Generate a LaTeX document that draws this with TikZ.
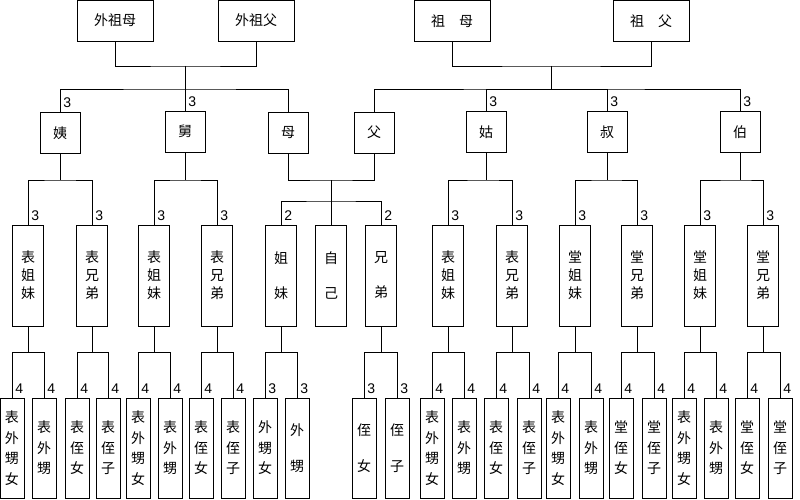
\documentclass[tikz,border=0pt]{standalone}
\usepackage{fontspec}
\newfontfamily\cjk{Noto Sans CJK SC}
\setmainfont{Liberation Sans}
\begin{document}
\begin{tikzpicture}[x=1pt,y=-1pt,line width=0.8pt,
 bx/.style={draw,inner sep=0pt,align=center,font=\cjk\fontsize{14}{18}\selectfont},
 topb/.style={bx,minimum width=76pt,minimum height=41pt},
 two/.style={bx,minimum width=40pt,minimum height=41pt},
 three/.style={bx,minimum width=31pt,minimum height=101pt},
 four/.style={bx,minimum width=24pt,minimum height=100pt,font=\cjk\fontsize{14}{20.5}\selectfont},
 lbl/.style={anchor=south west,inner sep=0pt,font=\fontsize{14}{14}\selectfont,xshift=3pt,yshift=4pt}]
\fill[white] (0,0) rectangle (800,500);
\useasboundingbox (0,0) rectangle (800,500);
% top
\node[topb] (wzm) at (115,20.5) {外祖母};
\node[topb] (wzf) at (256,20.5) {外祖父};
\node[topb] (zm) at (452,21) {祖\quad 母};
\node[topb] (zf) at (651,21) {祖\quad 父};
\coordinate (j1) at (185,66); \coordinate (h1) at (185,89);
\coordinate (j2) at (551,66); \coordinate (h2) at (551,89);
% level 2
\node[two] (yi) at (60,133) {姨};
\node[two] (jiu) at (185,131.5) {舅};
\node[two] (mu) at (288,132.5) {母};
\node[two] (fu) at (374,132.5) {父};
\node[two] (gu) at (486,132) {姑};
\node[two] (shu) at (607,132) {叔};
\node[two] (bo) at (740,132) {伯};
\foreach \n in {yi,jiu,gu,shu,bo}{\node[lbl] (\n l) at (\n.north) {3};}
\draw (wzm.south) |- (j1) -| (wzf.south); \draw (j1) -- (h1);
\draw (zm.south) |- (j2) -| (zf.south); \draw (j2) -- (h2);
\draw (yi.north) |- (h1) -| (mu.north); \draw (h1) -- (jiu.north);
\draw (fu.north) |- (h2) -| (bo.north); \draw (h2) -| (gu.north); \draw (h2) -| (shu.north);
% level 3
\node[three] (a1) at (28,275.5) {表\\姐\\妹};
\node[three] (a2) at (92,275.5) {表\\兄\\弟};
\node[three] (b1) at (154,275.5) {表\\姐\\妹};
\node[three] (b2) at (217,275.5) {表\\兄\\弟};
\node[three] (c1) at (281,275.5) {姐\\[17pt]妹};
\node[three] (c2) at (331,275.5) {自\\[17pt]己};
\node[three] (c3) at (381,275.5) {兄\\[17pt]弟};
\node[three] (d1) at (448,275.5) {表\\姐\\妹};
\node[three] (d2) at (512,275.5) {表\\兄\\弟};
\node[three] (e1) at (575,275.5) {堂\\姐\\妹};
\node[three] (e2) at (637,275.5) {堂\\兄\\弟};
\node[three] (f1) at (700,275.5) {堂\\姐\\妹};
\node[three] (f2) at (763,275.5) {堂\\兄\\弟};
\foreach \n in {a1,a2,b1,b2,d1,d2,e1,e2,f1,f2}{\node[lbl] (\n l) at (\n.north) {3};}
\node[lbl] (c1l) at (c1.north) {2}; \node[lbl] (c3l) at (c3.north) {2};
\foreach \p/\x/\l/\r in {yi/60/a1/a2,jiu/185/b1/b2,gu/486/d1/d2,shu/607/e1/e2,bo/740/f1/f2}{
 \coordinate (k\p) at (\x,180);
 \draw (\p.south) -- (k\p); \draw (\l.north) |- (k\p) -| (\r.north);}
\coordinate (km) at (331,180); \coordinate (km2) at (331,201);
\draw (mu.south) |- (km) -| (fu.south); \draw (km) -- (km2);
\draw (c1.north) |- (km2) -| (c3.north); \draw (km2) -- (c2.north);
% level 4
\newcommand\lf[4]{\node[four] (#1) at (#2,448) {#3}; \node[lbl] (#1l) at (#1.north) {#4};}
\lf{a1x}{12}{表\\外\\甥\\女}{4} \lf{a1y}{44}{表\\外\\甥}{4}
\lf{a2x}{77}{表\\侄\\女}{4} \lf{a2y}{108}{表\\侄\\子}{4}
\lf{b1x}{138}{表\\外\\甥\\女}{4} \lf{b1y}{170}{表\\外\\甥}{4}
\lf{b2x}{201}{表\\侄\\女}{4} \lf{b2y}{233}{表\\侄\\子}{4}
\lf{c1x}{265}{外\\甥\\女}{3} \lf{c1y}{297}{外\\[15pt]甥}{3}
\lf{c3x}{364}{侄\\[15pt]女}{3} \lf{c3y}{397}{侄\\[15pt]子}{3}
\lf{d1x}{432}{表\\外\\甥\\女}{4} \lf{d1y}{464}{表\\外\\甥}{4}
\lf{d2x}{496}{表\\侄\\女}{4} \lf{d2y}{529}{表\\侄\\子}{4}
\lf{e1x}{558}{表\\外\\甥\\女}{4} \lf{e1y}{591}{表\\外\\甥}{4}
\lf{e2x}{621}{堂\\侄\\女}{4} \lf{e2y}{654}{堂\\侄\\子}{4}
\lf{f1x}{684}{表\\外\\甥\\女}{4} \lf{f1y}{716}{表\\外\\甥}{4}
\lf{f2x}{747}{堂\\侄\\女}{4} \lf{f2y}{780}{堂\\侄\\子}{4}
\foreach \p in {a1,a2,b1,b2,c1,c3,d1,d2,e1,e2,f1,f2}{
 \coordinate (q\p) at ([yshift=-26pt]\p.south);
 \draw (\p.south) -- (q\p); \draw (\p x.north) |- (q\p) -| (\p y.north);}
\end{tikzpicture}
\end{document}
